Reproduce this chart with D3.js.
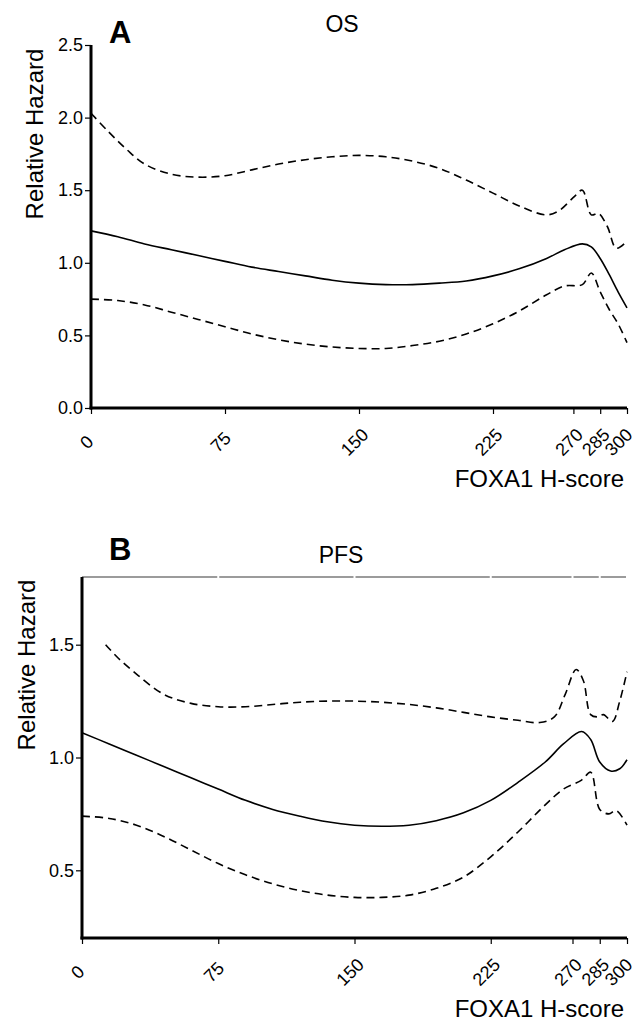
<!DOCTYPE html>
<html>
<head>
<meta charset="utf-8">
<script src="https://cdn.jsdelivr.net/npm/d3@7"></script>
<style>
  body { margin: 0; background: #fff; }
  text { font-family: "Liberation Sans", Arial, sans-serif; fill: #000; }
</style>
</head>
<body>
<script>
// x ticks shared by both panels
var xTicks = [0, 75, 150, 225, 270, 285, 300]

// Panel A - OS
var osX = [0, 15, 30, 45, 60, 75, 90, 105, 120, 135, 150, 165, 180, 195, 210, 225, 240, 255, 265, 275, 280, 285, 290, 295, 300]
var osHR = [1.22, 1.18, 1.13, 1.09, 1.05, 1.01, 0.97, 0.94, 0.91, 0.88, 0.86, 0.85, 0.85, 0.86, 0.875, 0.91, 0.96, 1.03, 1.09, 1.13, 1.11, 1.03, 0.92, 0.80, 0.69]
var osUpX = [0, 10, 20, 30, 45, 60, 75, 90, 105, 120, 135, 150, 165, 180, 195, 210, 225, 240, 255, 262, 270, 275, 280, 284, 289, 294, 300]
var osUp = [2.03, 1.90, 1.78, 1.68, 1.61, 1.59, 1.60, 1.64, 1.68, 1.71, 1.73, 1.74, 1.73, 1.70, 1.65, 1.57, 1.48, 1.39, 1.33, 1.36, 1.45, 1.50, 1.33, 1.34, 1.25, 1.10, 1.15]
var osLoX = [0, 15, 30, 45, 60, 75, 90, 105, 120, 135, 150, 165, 180, 195, 210, 225, 240, 255, 265, 275, 280, 285, 290, 295, 300]
var osLo = [0.75, 0.74, 0.71, 0.66, 0.61, 0.56, 0.51, 0.47, 0.44, 0.42, 0.41, 0.41, 0.43, 0.46, 0.51, 0.58, 0.67, 0.78, 0.84, 0.85, 0.93, 0.80, 0.68, 0.58, 0.45]
var osYTicks = [0, 0.5, 1.0, 1.5, 2.0, 2.5]

// Panel B - PFS
var pfsX = [0, 15, 30, 45, 60, 75, 90, 105, 120, 135, 150, 165, 180, 195, 210, 225, 240, 255, 265, 275, 280, 285, 291, 296, 300]
var pfsHR = [1.11, 1.06, 1.01, 0.96, 0.91, 0.86, 0.81, 0.77, 0.74, 0.715, 0.70, 0.695, 0.70, 0.72, 0.755, 0.81, 0.89, 0.98, 1.06, 1.115, 1.08, 0.98, 0.94, 0.95, 0.99]
var pfsUpX = [13, 20, 30, 45, 60, 75, 90, 105, 120, 135, 150, 165, 180, 195, 210, 225, 240, 252, 260, 266, 272, 276, 280, 284, 287, 292, 296, 300]
var pfsUp = [1.50, 1.44, 1.37, 1.28, 1.24, 1.225, 1.225, 1.235, 1.245, 1.25, 1.25, 1.245, 1.235, 1.22, 1.20, 1.18, 1.165, 1.155, 1.18, 1.28, 1.39, 1.34, 1.19, 1.18, 1.19, 1.16, 1.25, 1.38]
var pfsLoX = [0, 15, 30, 45, 60, 75, 90, 105, 120, 135, 150, 165, 180, 195, 210, 225, 240, 255, 265, 275, 280, 285, 290, 294, 300]
var pfsLo = [0.74, 0.73, 0.70, 0.65, 0.59, 0.53, 0.48, 0.44, 0.41, 0.39, 0.38, 0.38, 0.39, 0.42, 0.47, 0.56, 0.67, 0.79, 0.86, 0.90, 0.935, 0.77, 0.75, 0.765, 0.70]
var pfsYTicks = [0.5, 1.0, 1.5]

var svg = d3.select('body').append('svg')
  .attr('width', 638)
  .attr('height', 1022)

function zip (xs, ys) {
  return xs.map(function (x, i) { return [x, ys[i]] })
}

function drawPanel (p) {
  var x = d3.scaleLinear().domain([0, 300]).range([p.left, 627])
  var y = d3.scaleLinear().domain(p.yDomain).range([p.bottom, p.top])
  var g = svg.append('g')

  // top frame line (only panel B has it), broken at the ticks
  if (p.topLine) {
    for (var i = 0; i < xTicks.length - 1; i++) {
      g.append('line')
        .attr('x1', x(xTicks[i]) + (i === 0 ? 0 : 1))
        .attr('x2', x(xTicks[i + 1]) - 1)
        .attr('y1', p.top).attr('y2', p.top)
        .attr('stroke', '#7a7a7a')
        .attr('stroke-width', 1.5)
    }
  }

  // y axis
  var yAxis = g.append('g')
    .attr('transform', 'translate(' + p.left + ',0)')
    .call(d3.axisLeft(y).tickValues(p.yTicks).tickFormat(d3.format('.1f')).tickSize(6).tickSizeOuter(0).tickPadding(2))
  yAxis.select('.domain').remove()
  yAxis.selectAll('.tick line').attr('stroke', '#000').attr('stroke-width', 1.2)
  yAxis.selectAll('text').style('font-size', '18px').attr('fill', '#000')

  // x axis
  var xAxis = g.append('g')
    .attr('transform', 'translate(0,' + p.bottom + ')')
    .call(d3.axisBottom(x).tickValues(xTicks).tickSize(6).tickSizeOuter(0))
  xAxis.select('.domain').remove()
  xAxis.selectAll('.tick line').attr('stroke', '#000').attr('stroke-width', 1.2)
  xAxis.selectAll('text')
    .style('font-size', '18px')
    .attr('fill', '#000')
    .attr('y', 0)
    .attr('dy', '0.35em')
    .attr('text-anchor', 'middle')
    .attr('transform', function (d) {
      // last label pulled in a little so it stays on the page
      return 'translate(' + (d === 300 ? -9 : -5) + ',34) rotate(-45)'
    })

  // thick axis lines
  g.append('line')
    .attr('x1', p.left).attr('x2', p.left)
    .attr('y1', p.top).attr('y2', p.bottom + 1.5)
    .attr('stroke', '#000').attr('stroke-width', 3)
  g.append('line')
    .attr('x1', p.left - 1.5).attr('x2', 627)
    .attr('y1', p.bottom).attr('y2', p.bottom)
    .attr('stroke', '#000').attr('stroke-width', 3)

  var line = d3.line()
    .x(function (d) { return x(d[0]) })
    .y(function (d) { return y(d[1]) })
    .curve(d3.curveCatmullRom.alpha(0.5))

  g.append('path').datum(zip(p.upX, p.up))
    .attr('d', line).attr('fill', 'none')
    .attr('stroke', '#000').attr('stroke-width', 1.6)
    .attr('stroke-dasharray', '8,5')
  g.append('path').datum(zip(p.loX, p.lo))
    .attr('d', line).attr('fill', 'none')
    .attr('stroke', '#000').attr('stroke-width', 1.6)
    .attr('stroke-dasharray', '8,5')
  g.append('path').datum(zip(p.hrX, p.hr))
    .attr('d', line).attr('fill', 'none')
    .attr('stroke', '#000').attr('stroke-width', 1.6)

  // labels
  g.append('text')
    .attr('x', 109).attr('y', p.letterY)
    .style('font-size', '31px').style('font-weight', 'bold')
    .text(p.letter)
  g.append('text')
    .attr('x', p.titleX).attr('y', p.titleY)
    .attr('text-anchor', 'middle')
    .style('font-size', '23px')
    .text(p.title)
  g.append('text')
    .attr('x', 624).attr('y', p.bottom + 79)
    .attr('text-anchor', 'end')
    .style('font-size', '24px')
    .text('FOXA1 H-score')
  g.append('text')
    .attr('transform', 'translate(' + p.yLabelX + ',' + p.yLabelY + ') rotate(-90)')
    .attr('text-anchor', 'middle')
    .style('font-size', '24px')
    .text('Relative Hazard')
}

drawPanel({
  left: 91, top: 45, bottom: 408, yDomain: [0, 2.5], yTicks: osYTicks,
  hrX: osX, hr: osHR, upX: osUpX, up: osUp, loX: osLoX, lo: osLo,
  letter: 'A', letterY: 43, title: 'OS', titleX: 342, titleY: 32,
  yLabelX: 43, yLabelY: 134, topLine: false
})

drawPanel({
  left: 82, top: 577, bottom: 938, yDomain: [0.2, 1.8], yTicks: pfsYTicks,
  hrX: pfsX, hr: pfsHR, upX: pfsUpX, up: pfsUp, loX: pfsLoX, lo: pfsLo,
  letter: 'B', letterY: 560, title: 'PFS', titleX: 341, titleY: 563,
  yLabelX: 35, yLabelY: 665, topLine: true
})
</script>
</body>
</html>
